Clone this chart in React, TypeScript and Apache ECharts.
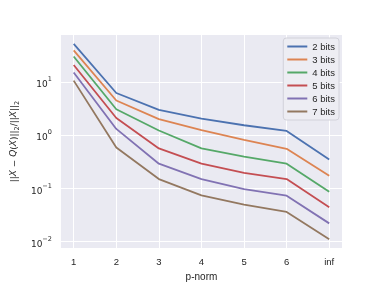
import React, { useEffect, useRef } from "react";
import * as echarts from "echarts";

const categories = ["1", "2", "3", "4", "5", "6", "inf"];
const xPositions = [1, 2, 3, 4, 5, 6, 7];
const seriesNames = ["2 bits", "3 bits", "4 bits", "5 bits", "6 bits", "7 bits"];
const bits2 = [53.4, 6.32, 3.03, 2.07, 1.56, 1.22, 0.354];
const bits3 = [40.2, 4.56, 2.04, 1.26, 0.826, 0.56, 0.174];
const bits4 = [30.8, 3.12, 1.24, 0.57, 0.4, 0.294, 0.0873];
const bits5 = [21.3, 2.13, 0.571, 0.294, 0.198, 0.151, 0.0443];
const bits6 = [15.4, 1.33, 0.294, 0.151, 0.0975, 0.0736, 0.0221];
const bits7 = [10.8, 0.596, 0.151, 0.0746, 0.05, 0.0363, 0.0111];
const yTicks = [0.01, 0.1, 1, 10];
const colors = ["#4C72B0", "#DD8452", "#55A868", "#C44E52", "#8172B3", "#937860"];

const allSeries = [bits2, bits3, bits4, bits5, bits6, bits7];
const TEXT = "#262626";
const FONT = "'Liberation Sans', Arial, sans-serif";
const MATH = "'DejaVu Sans', sans-serif";

export default function App() {
  const ref = useRef<HTMLDivElement>(null);
  useEffect(() => {
    if (!ref.current) return;
    const chart = echarts.init(ref.current, undefined, { renderer: "svg" });
    chart.setOption({
      animation: false,
      textStyle: { fontFamily: FONT, color: TEXT },
      grid: { left: 48, right: 39, top: 35, bottom: 33, show: true, backgroundColor: "#EAEAF2", borderWidth: 0 },
      legend: {
        orient: "vertical",
        right: 42,
        top: 38,
        icon: "rect",
        itemWidth: 20,
        itemHeight: 2,
        itemGap: 2,
        padding: [3, 4, 3, 4],
        backgroundColor: "#EDEDF3",
        borderColor: "#D2D2DA",
        borderWidth: 1,
        borderRadius: 3,
        textStyle: { fontSize: 9.5, color: TEXT, lineHeight: 11, fontFamily: FONT },
        data: seriesNames,
      },
      xAxis: {
        type: "value",
        min: 0.7,
        max: 7.3,
        name: "p-norm",
        nameLocation: "middle",
        nameGap: 19,
        nameTextStyle: { fontSize: 10, color: TEXT, fontFamily: FONT },
        axisLine: { show: false },
        axisTick: { show: false, customValues: xPositions },
        axisLabel: {
          customValues: xPositions,
          margin: 8,
          fontSize: 9.5,
          color: TEXT,
          fontFamily: FONT,
          formatter: (v: number) => categories[Math.round(v) - 1] ?? "",
        },
        splitLine: { show: true, lineStyle: { color: "#FFFFFF", width: 1 } },
      },
      yAxis: {
        type: "log",
        logBase: 10,
        min: 0.00756,
        max: 78.2,
        name: "||{i|X} − {i|Q}({i|X})||{s|2}/||{i|X}||{s|2}",
        nameLocation: "middle",
        nameGap: 30,
        nameRotate: 90,
        nameTextStyle: {
          fontSize: 9,
          color: TEXT,
          fontFamily: MATH,
          lineHeight: 12,
          align: "center",
          rich: {
            i: { fontStyle: "italic", fontSize: 9, fontFamily: MATH, color: TEXT, lineHeight: 12, verticalAlign: "top" },
            s: { fontSize: 6.5, fontFamily: MATH, color: TEXT, lineHeight: 12, verticalAlign: "bottom" },
          },
        },
        axisLine: { show: false },
        axisTick: { show: false, customValues: yTicks },
        axisLabel: {
          customValues: yTicks,
          margin: 9,
          fontSize: 9,
          color: TEXT,
          fontFamily: MATH,
          lineHeight: 13,
          verticalAlign: "middle",
          formatter: (v: number) => {
            const e = Math.round(Math.log10(v));
            return "{b|10}{s|" + (e < 0 ? "−" + -e : String(e)) + "}";
          },
          rich: {
            b: { fontSize: 9, fontFamily: MATH, color: TEXT, lineHeight: 13, verticalAlign: "bottom" },
            s: { fontSize: 6.5, fontFamily: MATH, color: TEXT, lineHeight: 13, verticalAlign: "top" },
          },
        },
        splitLine: { show: true, lineStyle: { color: "#FFFFFF", width: 1 } },
      },
      series: allSeries.map((vals, i) => ({
        name: seriesNames[i],
        type: "line",
        symbol: "none",
        color: colors[i],
        lineStyle: { width: 1.8, color: colors[i] },
        data: vals.map((v, j) => [xPositions[j], v]),
      })),
    });
    return () => chart.dispose();
  }, []);
  return <div ref={ref} style={{ position: "fixed", left: 0, top: 0, width: 381, height: 286 }} />;
}
